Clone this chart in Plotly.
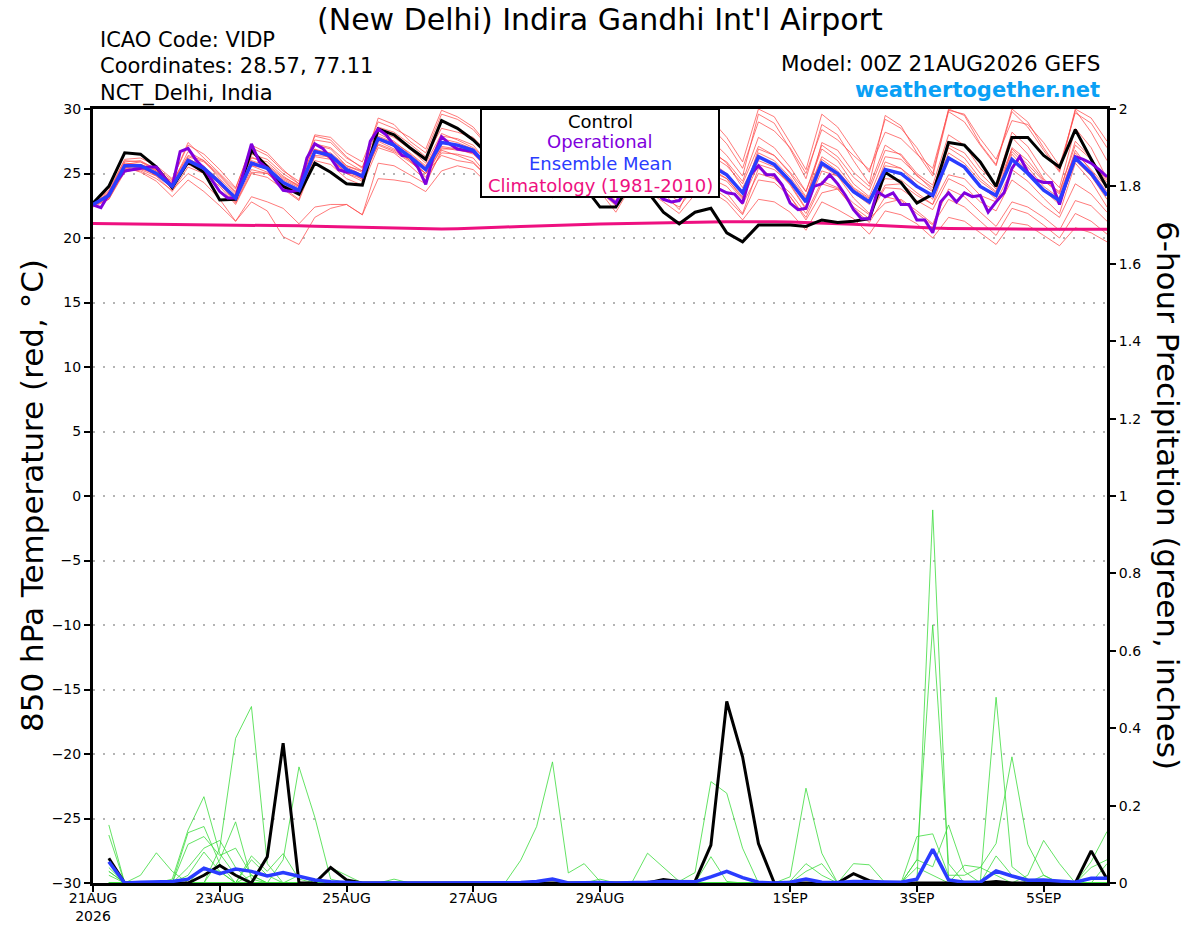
import pandas as pd
import plotly.graph_objects as go

# ---------------- data ----------------
RUN_START = "2026-08-21 00:00"
RUN_END = "2026-09-06 00:00"
N6 = 65    # 6-hourly steps (0..384 h)
N3 = 129   # 3-hourly steps for the operational run

tick_dates = ["2026-08-21", "2026-08-23", "2026-08-25", "2026-08-27",
              "2026-08-29", "2026-09-01", "2026-09-03", "2026-09-05"]
tick_labels = ["21AUG<br>2026", "23AUG", "25AUG", "27AUG", "29AUG", "1SEP", "3SEP", "5SEP"]

# 850 hPa temperature (deg C), 6-hourly
control_t = [22.7, 24.0, 26.6, 26.5, 25.5, 23.9, 25.9, 25.1,
             22.95, 23.0, 26.8, 25.5, 24.0, 23.4, 25.8, 25.1,
             24.2, 24.1, 28.45, 28.0, 27.0, 26.1, 29.1, 28.5,
             27.6, 26.4, 26.3, 25.2, 27.4, 26.6, 25.2, 24.0,
             22.4, 22.4, 24.3, 23.6, 22.0, 21.1, 22.0, 22.3,
             20.4, 19.7, 21.0, 21.0, 21.0, 20.9, 21.4, 21.2,
             21.3, 21.5, 25.1, 24.3, 22.7, 23.4, 27.4, 27.2,
             25.9, 24.0, 27.8, 27.8, 26.4, 25.5, 28.4, 26.1,
             23.9]

mean_t = [22.6, 23.3, 25.6, 25.6, 25.0, 24.0, 26.0, 25.4,
          24.3, 23.1, 25.8, 25.4, 24.3, 23.7, 26.7, 26.4,
          25.3, 24.8, 27.7, 27.2, 26.3, 25.3, 27.4, 27.2,
          26.8, 25.4, 26.6, 26.0, 25.1, 24.3, 26.2, 25.6,
          24.9, 23.6, 25.9, 25.4, 24.7, 23.9, 25.9, 25.6,
          24.9, 23.5, 26.3, 25.7, 24.4, 22.8, 25.8, 25.0,
          23.6, 22.8, 25.3, 25.0, 24.0, 23.3, 26.2, 25.5,
          24.0, 23.3, 26.1, 25.0, 23.7, 22.9, 26.2, 25.0,
          23.3]

climatology_t = [21.12, 21.11, 21.10, 21.09, 21.08, 21.07, 21.06, 21.05,
                 21.04, 21.03, 21.01, 20.99, 20.97, 20.94, 20.91, 20.88,
                 20.85, 20.82, 20.79, 20.76, 20.73, 20.71, 20.70, 20.72,
                 20.75, 20.80, 20.85, 20.90, 20.95, 20.99, 21.02, 21.05,
                 21.08, 21.11, 21.14, 21.17, 21.19, 21.21, 21.23, 21.25,
                 21.26, 21.27, 21.27, 21.26, 21.24, 21.21, 21.17, 21.13,
                 21.07, 21.00, 20.93, 20.87, 20.81, 20.77, 20.74, 20.72,
                 20.70, 20.68, 20.67, 20.67, 20.67, 20.67, 20.67, 20.67,
                 20.67]

# operational run, 3-hourly
operational_t = [22.56, 22.35, 23.4, 24.4, 25.2, 25.3, 25.4, 25.5,
                 25.5, 24.7, 24.0, 26.7, 26.95, 26.05, 25.4, 24.5,
                 23.6, 23.1, 23.1, 25.1, 27.3, 25.9, 25.4, 24.5,
                 23.7, 23.6, 23.7, 26.2, 27.3, 26.95, 26.2, 25.3,
                 25.1, 25.1, 24.75, 27.5, 28.45, 28.0, 27.2, 26.4,
                 26.3, 25.5, 24.16, 26.4, 27.85, 27.3, 26.9, 26.8,
                 26.7, 26.1, 25.2, 26.0, 26.6, 26.3, 25.9, 25.3,
                 24.8, 24.3, 24.0, 25.6, 26.3, 25.8, 25.2, 24.6,
                 24.0, 23.2, 22.7, 23.9, 25.9, 25.5, 24.9, 23.5,
                 23.0, 22.8, 22.9, 23.8, 24.6, 24.4, 24.1, 23.8,
                 23.5, 23.4, 22.7, 24.9, 25.6, 24.9, 24.9, 24.1,
                 22.7, 22.2, 22.3, 24.0, 24.2, 24.9, 24.2, 23.3,
                 22.2, 21.5, 21.5, 23.6, 23.2, 23.5, 22.6, 22.6,
                 21.4, 21.4, 20.4, 22.8, 23.5, 22.8, 23.5, 23.2,
                 23.3, 22.0, 22.8, 23.5, 25.4, 26.3, 25.1, 24.5,
                 24.3, 24.3, 22.6, 24.6, 26.3, 26.1, 25.8, 25.3,
                 24.75]

# ensemble members (temperature)
member_t01 = [22.8, 23.6, 26.0, 25.9, 25.4, 24.5, 27.4, 26.2, 25.0, 23.8, 27.2, 26.6, 25.3, 24.2, 27.9, 27.6,
              26.3, 25.4, 29.3, 28.8, 27.5, 26.6, 29.6, 29.2, 28.4, 27.0, 28.6, 27.8, 26.3, 25.2, 28.4, 27.6,
              26.5, 24.8, 28.3, 27.6, 26.1, 24.6, 28.0, 27.6, 26.4, 24.8, 29.6, 28.9, 26.9, 24.6, 28.8, 28.0,
              26.0, 24.2, 29.5, 28.7, 26.6, 24.8, 29.8, 29.0, 27.2, 25.6, 29.8, 28.6, 26.8, 25.1, 29.9, 28.2, 26.0]
member_t02 = [22.5, 23.0, 25.3, 25.2, 24.6, 23.7, 25.0, 24.3, 23.0, 21.3, 22.8, 22.1, 20.1, 19.5, 21.6, 22.3,
              22.6, 21.8, 24.6, 24.5, 24.3, 23.6, 25.2, 25.6, 25.3, 24.1, 25.7, 25.3, 24.2, 23.1, 24.8, 24.6,
              23.6, 22.0, 24.1, 23.6, 22.8, 21.9, 23.4, 24.0, 23.1, 21.8, 24.5, 24.3, 23.2, 21.4, 23.5, 23.8,
              22.4, 21.5, 22.7, 23.0, 22.1, 21.1, 23.8, 23.2, 22.0, 20.9, 22.8, 22.4, 21.6, 20.6, 22.9, 22.5, 21.3]
member_t03 = [22.6, 23.4, 25.8, 25.7, 25.3, 24.3, 26.3, 25.9, 24.8, 23.5, 26.2, 25.9, 24.8, 24.0, 27.3, 27.0,
              25.9, 25.2, 28.3, 27.8, 26.9, 25.8, 28.1, 27.6, 27.0, 25.9, 27.3, 26.6, 25.6, 24.7, 27.1, 26.4,
              25.5, 24.1, 26.8, 26.2, 25.3, 24.5, 27.0, 26.6, 25.9, 24.4, 27.8, 27.0, 25.5, 23.6, 27.2, 26.3,
              24.7, 23.7, 26.8, 26.5, 25.0, 24.1, 28.0, 27.2, 25.4, 24.2, 28.2, 27.1, 25.2, 23.9, 28.5, 27.0, 24.6]
member_t04 = [22.5, 23.1, 25.2, 25.3, 24.8, 23.6, 25.5, 25.0, 24.0, 22.6, 25.0, 24.7, 23.8, 22.9, 26.0, 25.7,
              24.6, 24.1, 27.0, 26.6, 25.6, 24.5, 26.6, 26.5, 26.2, 24.7, 25.8, 25.3, 24.5, 23.6, 25.3, 24.9,
              24.2, 22.9, 25.0, 24.6, 24.0, 23.1, 24.8, 24.6, 24.0, 22.6, 25.0, 24.6, 23.5, 21.9, 24.4, 23.9,
              22.7, 21.8, 23.9, 23.8, 22.9, 22.2, 24.6, 24.0, 22.8, 22.1, 24.5, 23.6, 22.5, 21.6, 24.2, 23.4, 22.0]
member_t05 = [22.7, 23.2, 25.5, 25.1, 24.4, 23.2, 24.5, 23.6, 22.5, 21.3, 23.2, 22.8, 22.3, 21.1, 22.4, 22.6,
              22.6, 21.8, 25.8, 25.6, 24.9, 24.2, 26.8, 26.4, 25.9, 24.6, 26.2, 25.7, 24.9, 23.9, 26.0, 25.2,
              24.1, 22.6, 25.4, 24.7, 23.5, 22.2, 24.9, 24.3, 23.5, 21.9, 25.4, 24.7, 23.2, 21.6, 24.2, 23.8,
              22.3, 21.2, 23.2, 22.9, 21.9, 21.0, 23.0, 22.4, 21.3, 20.2, 22.3, 21.9, 21.0, 20.0, 21.9, 21.3, 20.3]
member_t06 = [22.6, 23.5, 25.9, 26.0, 25.3, 24.2, 26.7, 26.0, 24.9, 23.6, 26.5, 26.1, 25.0, 24.2, 27.6, 27.4,
              26.2, 25.5, 28.6, 28.2, 27.3, 26.3, 28.5, 28.2, 27.8, 26.5, 28.0, 27.4, 26.5, 25.5, 28.7, 28.1,
              27.1, 25.6, 28.9, 28.2, 27.0, 25.6, 29.2, 28.6, 27.3, 25.4, 29.0, 28.3, 27.0, 25.0, 28.4, 27.6,
              26.4, 25.3, 28.2, 27.7, 26.5, 25.4, 29.9, 29.6, 27.7, 26.1, 29.1, 28.8, 27.4, 25.6, 29.7, 28.9, 27.0]
member_t07 = [22.4, 23.0, 25.1, 25.4, 25.0, 23.8, 26.2, 25.4, 24.2, 23.3, 25.6, 25.4, 24.5, 23.9, 26.9, 26.1,
              25.0, 24.6, 27.5, 26.9, 26.1, 25.0, 26.9, 26.9, 26.8, 25.1, 26.2, 25.8, 25.0, 24.2, 25.8, 25.3,
              24.9, 23.1, 25.2, 25.1, 24.3, 23.5, 25.3, 25.4, 24.6, 23.1, 26.9, 26.4, 25.0, 23.2, 26.3, 25.5,
              23.9, 23.1, 24.6, 24.5, 23.5, 22.6, 26.3, 25.5, 24.1, 23.0, 27.0, 26.0, 24.5, 23.4, 26.6, 25.3, 23.9]
member_t08 = [22.5, 23.2, 25.4, 25.5, 24.9, 24.1, 25.8, 25.2, 24.2, 23.0, 25.6, 25.1, 24.0, 23.4, 26.3, 26.1,
              25.1, 24.7, 27.2, 26.7, 25.9, 25.0, 26.4, 26.0, 25.8, 24.6, 25.9, 25.2, 24.3, 23.4, 25.0, 24.4,
              23.6, 22.5, 24.3, 23.7, 23.1, 22.4, 24.0, 23.6, 22.8, 21.4, 23.0, 22.8, 22.0, 20.6, 22.8, 22.2,
              21.5, 20.3, 22.1, 21.8, 21.1, 20.0, 21.6, 21.3, 20.4, 19.5, 21.2, 21.0, 20.2, 19.4, 20.8, 20.4, 19.7]
member_t09 = [22.7, 23.5, 25.7, 25.9, 25.2, 24.4, 26.4, 26.0, 24.6, 23.4, 26.3, 25.7, 24.7, 24.1, 27.2, 26.9,
              25.6, 25.2, 28.1, 27.5, 26.5, 25.5, 27.9, 27.7, 27.2, 25.7, 27.2, 26.7, 25.7, 24.9, 26.9, 26.2,
              25.3, 23.9, 26.6, 26.1, 25.4, 24.6, 26.8, 26.4, 25.6, 24.2, 27.1, 26.4, 25.1, 23.6, 26.9, 26.0,
              24.2, 23.2, 26.3, 26.1, 24.9, 23.7, 27.2, 26.6, 25.0, 23.8, 26.9, 25.7, 24.4, 23.6, 27.2, 26.1, 24.5]
member_t10 = [22.6, 23.3, 25.6, 25.5, 25.1, 24.0, 25.9, 25.3, 24.3, 22.8, 25.3, 25.0, 23.9, 23.0, 26.4, 26.3,
              25.4, 24.5, 27.6, 27.1, 26.0, 24.7, 27.0, 26.8, 26.6, 25.6, 26.9, 26.3, 25.3, 24.0, 26.7, 26.3,
              25.6, 24.3, 27.0, 26.4, 25.5, 24.1, 27.3, 26.9, 25.8, 23.9, 26.3, 25.6, 24.3, 22.9, 27.4, 26.8,
              25.1, 24.0, 27.2, 26.4, 24.8, 23.9, 27.0, 26.2, 24.6, 23.6, 27.8, 26.5, 24.6, 23.5, 27.5, 26.2, 24.3]
member_t11 = [22.5, 23.4, 25.4, 25.7, 25.2, 24.1, 26.0, 25.5, 24.5, 23.0, 26.0, 25.6, 24.6, 24.0, 26.8, 26.6,
              25.6, 25.1, 27.9, 27.4, 26.6, 25.6, 27.7, 27.4, 26.9, 25.1, 26.4, 25.9, 24.8, 23.8, 25.6, 25.0,
              24.3, 22.7, 24.8, 24.5, 23.7, 22.8, 24.6, 24.9, 24.4, 23.0, 25.7, 25.3, 24.2, 22.3, 25.2, 24.8,
              23.5, 22.6, 25.9, 25.4, 24.1, 23.0, 26.3, 25.4, 23.9, 23.2, 26.5, 25.1, 23.7, 22.6, 26.0, 24.8, 23.0]
member_t12 = [22.8, 23.7, 26.1, 26.2, 25.6, 24.6, 27.2, 26.5, 25.3, 23.9, 27.0, 26.4, 25.2, 24.4, 28.0, 27.8,
              26.6, 25.9, 29.0, 28.5, 27.8, 26.9, 29.9, 29.4, 28.6, 27.1, 29.0, 28.3, 27.0, 25.8, 29.4, 28.9,
              27.6, 25.9, 29.6, 28.9, 27.5, 25.7, 29.9, 29.2, 27.8, 25.9, 30.0, 29.4, 27.4, 25.3, 29.6, 28.6,
              26.8, 25.1, 29.2, 28.5, 27.0, 25.0, 30.0, 29.5, 27.3, 25.7, 30.0, 29.0, 27.0, 25.2, 30.0, 29.3, 27.5]
member_t13 = [22.6, 23.1, 25.5, 25.6, 24.8, 24.0, 25.7, 25.1, 24.2, 22.7, 25.1, 25.0, 24.1, 23.6, 26.7, 26.2,
              25.0, 24.4, 27.3, 26.8, 26.0, 25.0, 27.1, 26.9, 26.5, 25.3, 26.5, 26.1, 25.2, 24.5, 26.4, 25.7,
              24.8, 23.4, 26.2, 25.6, 24.6, 23.4, 25.5, 25.2, 24.6, 23.2, 26.0, 25.5, 24.1, 22.2, 25.6, 24.8,
              23.1, 21.9, 24.1, 24.2, 23.3, 22.6, 24.9, 24.6, 23.3, 22.8, 25.3, 24.4, 23.1, 21.9, 25.8, 24.4, 22.4]
member_t14 = [22.5, 23.3, 25.7, 25.4, 24.9, 24.0, 26.1, 25.6, 24.1, 23.0, 25.9, 25.5, 24.4, 23.6, 26.9, 26.5,
              25.5, 24.9, 27.8, 27.3, 26.4, 25.4, 27.5, 27.0, 26.6, 25.5, 27.0, 26.2, 25.3, 24.6, 26.6, 25.8,
              24.9, 23.5, 26.1, 25.5, 24.9, 24.0, 26.5, 25.9, 25.0, 23.6, 26.6, 26.0, 24.7, 23.1, 26.1, 25.2,
              23.8, 23.0, 25.6, 25.4, 24.4, 23.6, 26.6, 25.8, 24.4, 23.5, 26.7, 25.5, 24.0, 23.1, 26.8, 25.2, 23.6]

# 6-hour precipitation (inches), valid 06Z 21AUG .. 00Z 6SEP (64 values)
control_p = [0.064, 0, 0, 0, 0, 0, 0.02, 0.045, 0.02, 0, 0.068, 0.361, 0, 0, 0.04, 0.008,
             0, 0, 0, 0, 0, 0, 0, 0, 0, 0, 0, 0, 0, 0, 0, 0,
             0, 0, 0, 0.009, 0.004, 0.004, 0.098, 0.469, 0.326, 0.102, 0, 0, 0, 0, 0, 0.024,
             0.006, 0, 0, 0, 0, 0, 0, 0, 0.004, 0, 0, 0, 0, 0, 0.083, 0.01]
mean_p = [0.055, 0, 0.002, 0.004, 0.004, 0.01, 0.038, 0.024, 0.036, 0.03, 0.018, 0.027, 0.017, 0.008, 0.003, 0.001,
          0, 0, 0.001, 0, 0, 0, 0, 0, 0, 0, 0.001, 0.004, 0.01, 0, 0.001, 0.001,
          0, 0, 0.002, 0.004, 0.003, 0.003, 0.016, 0.03, 0.014, 0.002, 0, 0.002, 0.01, 0.002, 0.001, 0.004,
          0.003, 0.002, 0.002, 0.01, 0.087, 0.008, 0.002, 0.002, 0.031, 0.018, 0.007, 0.008, 0.006, 0.002, 0.012, 0.012]

member_p01 = [0.02, 0, 0, 0, 0, 0, 0, 0.09, 0.374, 0.456, 0.05, 0, 0, 0, 0, 0,
              0, 0, 0, 0, 0, 0, 0, 0, 0, 0, 0, 0, 0, 0, 0, 0,
              0, 0, 0, 0, 0, 0, 0, 0, 0, 0, 0, 0, 0, 0, 0, 0,
              0, 0, 0, 0, 0, 0, 0, 0, 0, 0, 0, 0, 0, 0, 0, 0]
member_p02 = [0.15, 0, 0, 0, 0, 0, 0, 0, 0, 0, 0, 0.06, 0.30, 0.17, 0.01, 0,
              0, 0, 0, 0, 0, 0, 0, 0, 0, 0, 0, 0, 0, 0, 0, 0,
              0, 0, 0, 0, 0, 0, 0, 0, 0, 0, 0, 0, 0, 0, 0, 0,
              0, 0, 0, 0, 0, 0, 0, 0, 0, 0, 0, 0.02, 0, 0, 0, 0]
member_p03 = [0.124, 0, 0, 0, 0.01, 0.137, 0.223, 0.076, 0.02, 0, 0, 0, 0, 0, 0, 0,
              0, 0, 0, 0, 0, 0, 0, 0, 0, 0, 0, 0, 0, 0, 0, 0,
              0, 0, 0, 0, 0, 0, 0, 0, 0, 0, 0, 0.016, 0.245, 0.077, 0, 0,
              0, 0, 0, 0, 0, 0, 0, 0, 0, 0, 0, 0, 0, 0, 0, 0]
member_p04 = [0, 0, 0, 0, 0, 0.13, 0.146, 0.05, 0, 0, 0, 0, 0, 0, 0, 0,
              0, 0, 0, 0, 0, 0, 0, 0, 0, 0, 0.059, 0.146, 0.313, 0.026, 0.05, 0.004,
              0, 0, 0, 0, 0, 0, 0, 0, 0, 0, 0, 0, 0, 0, 0, 0,
              0, 0, 0, 0, 0, 0, 0, 0, 0, 0, 0, 0, 0, 0, 0, 0]
member_p05 = [0, 0, 0, 0, 0, 0, 0, 0.06, 0.158, 0.01, 0, 0, 0, 0, 0, 0,
              0, 0, 0, 0, 0, 0, 0, 0, 0, 0, 0, 0, 0, 0, 0, 0,
              0, 0, 0.077, 0.04, 0.004, 0.027, 0.262, 0.232, 0.09, 0, 0, 0, 0, 0, 0, 0,
              0, 0, 0, 0, 0, 0, 0, 0, 0, 0, 0, 0, 0, 0, 0, 0]
member_p06 = [0, 0, 0.02, 0.078, 0.03, 0, 0, 0, 0, 0, 0, 0, 0, 0, 0, 0,
              0, 0, 0, 0, 0, 0, 0, 0, 0, 0, 0, 0, 0, 0, 0, 0,
              0, 0, 0, 0, 0, 0, 0, 0, 0, 0, 0, 0, 0, 0, 0, 0,
              0, 0, 0, 0, 0.964, 0.01, 0, 0, 0, 0, 0, 0, 0, 0, 0, 0]
member_p07 = [0, 0, 0, 0, 0, 0, 0, 0, 0, 0.02, 0, 0, 0.02, 0, 0, 0,
              0, 0, 0, 0, 0, 0, 0, 0, 0, 0, 0, 0, 0, 0, 0, 0,
              0, 0, 0, 0, 0, 0, 0, 0, 0, 0, 0, 0, 0, 0, 0, 0,
              0, 0, 0, 0.06, 0.667, 0.05, 0, 0, 0, 0, 0, 0, 0, 0, 0, 0]
member_p08 = [0, 0, 0, 0, 0, 0, 0.04, 0.03, 0, 0, 0, 0, 0, 0, 0, 0,
              0, 0, 0, 0, 0, 0, 0, 0, 0, 0, 0, 0, 0, 0, 0, 0,
              0, 0, 0, 0, 0, 0, 0, 0, 0, 0, 0, 0, 0, 0, 0, 0,
              0, 0, 0, 0.06, 0.042, 0.15, 0.03, 0, 0.48, 0.042, 0.01, 0, 0, 0, 0, 0]
member_p09 = [0.03, 0, 0, 0, 0, 0.02, 0.08, 0.03, 0, 0, 0, 0, 0, 0, 0, 0,
              0, 0, 0, 0, 0, 0, 0, 0, 0, 0, 0, 0, 0, 0, 0, 0,
              0, 0, 0, 0, 0, 0, 0, 0, 0, 0, 0, 0, 0, 0, 0, 0,
              0, 0, 0, 0.12, 0.127, 0.02, 0.02, 0.04, 0.102, 0.326, 0.1, 0.02, 0, 0, 0, 0]
member_p10 = [0, 0, 0, 0, 0, 0, 0, 0, 0, 0.07, 0.03, 0.076, 0.01, 0, 0, 0,
              0, 0, 0, 0, 0, 0, 0, 0, 0, 0, 0, 0, 0, 0, 0, 0,
              0, 0, 0, 0, 0, 0, 0, 0, 0, 0, 0, 0, 0, 0, 0, 0.05,
              0.047, 0, 0, 0, 0, 0, 0, 0, 0, 0, 0, 0, 0, 0, 0.055, 0.133]
member_p11 = [0, 0, 0, 0, 0, 0.04, 0.09, 0.11, 0.04, 0, 0, 0, 0, 0, 0, 0,
              0, 0, 0.01, 0, 0, 0, 0, 0, 0, 0, 0, 0, 0, 0, 0, 0,
              0, 0, 0, 0, 0, 0, 0, 0, 0, 0, 0, 0.005, 0.05, 0.02, 0, 0,
              0, 0, 0, 0, 0, 0, 0.046, 0.04, 0.02, 0, 0, 0, 0, 0, 0, 0]
member_p12 = [0, 0, 0, 0, 0, 0.1, 0.12, 0.071, 0.09, 0.02, 0, 0, 0, 0, 0, 0,
              0, 0, 0, 0, 0, 0, 0, 0, 0, 0, 0, 0, 0, 0, 0, 0,
              0, 0, 0, 0, 0, 0, 0, 0, 0, 0, 0, 0, 0, 0, 0, 0,
              0, 0, 0, 0, 0, 0, 0, 0, 0, 0, 0.02, 0.11, 0.05, 0, 0, 0]
member_p13 = [0.04, 0, 0, 0, 0, 0, 0, 0, 0, 0, 0, 0, 0, 0, 0.04, 0.02,
              0, 0, 0, 0, 0, 0, 0, 0, 0, 0, 0, 0, 0, 0, 0, 0.01,
              0, 0, 0, 0, 0, 0, 0.068, 0.004, 0, 0, 0, 0, 0, 0, 0, 0,
              0, 0, 0, 0, 0, 0, 0, 0, 0, 0, 0, 0, 0, 0, 0.04, 0.06]
member_p14 = [0.03, 0, 0, 0, 0, 0, 0, 0, 0, 0.06, 0.02, 0, 0, 0, 0, 0,
              0, 0, 0, 0, 0, 0, 0, 0, 0, 0, 0, 0, 0, 0, 0, 0,
              0, 0, 0, 0, 0, 0, 0, 0, 0, 0, 0, 0, 0.03, 0.05, 0, 0,
              0, 0, 0, 0.04, 0.02, 0, 0, 0, 0.07, 0.02, 0, 0, 0, 0, 0, 0.05]

members_t = [member_t01, member_t02, member_t03, member_t04, member_t05, member_t06, member_t07,
             member_t08, member_t09, member_t10, member_t11, member_t12, member_t13, member_t14]
members_p = [member_p01, member_p02, member_p03, member_p04, member_p05, member_p06, member_p07,
             member_p08, member_p09, member_p10, member_p11, member_p12, member_p13, member_p14]

# ---------------- figure ----------------
t6 = list(pd.date_range(RUN_START, periods=N6, freq="6h"))
t3 = list(pd.date_range(RUN_START, periods=N3, freq="3h"))
t6p = t6[1:]

TEXTFONT = "DejaVu Sans, Verdana, sans-serif"
RED = "rgba(255,70,70,0.9)"
GREEN = "rgb(60,220,60)"
BLACK = "#000000"
PURPLE = "#8000dd"
BLUE = "#2a3cff"
MAGENTA = "#ee1080"

fig = go.Figure()


def add(x, y, color, width, axis="y"):
    n = min(len(x), len(y))
    fig.add_trace(go.Scatter(x=x[:n], y=y[:n], mode="lines", yaxis=axis,
                             line=dict(color=color, width=width),
                             hoverinfo="skip", showlegend=False))


for m in members_t:
    add(t6, m, RED, 0.8)
add(t6, climatology_t, MAGENTA, 3)
add(t6, control_t, BLACK, 3)
add(t3, operational_t, PURPLE, 3)
add(t6, mean_t, BLUE, 3.5)

for m in members_p:
    add(t6p, m, GREEN, 0.8, "y2")
add(t6p, control_p, BLACK, 3, "y2")
add(t6p, mean_p, BLUE, 3.5, "y2")

W, H = 1200, 927
L, R, T, B = 93, W - 1107, 109, H - 883


def px(xp):
    return (xp - 93) / 1014.0


def py(yp):
    return (883 - yp) / 774.0


fig.update_layout(
    width=W, height=H,
    margin=dict(l=L, r=R, t=T, b=B, pad=0, autoexpand=False),
    paper_bgcolor="white", plot_bgcolor="white",
    font=dict(family=TEXTFONT, color="black", size=14),
    showlegend=False,
    xaxis=dict(type="date", range=[RUN_START, RUN_END], automargin=False,
               tickvals=tick_dates, ticktext=tick_labels,
               showline=True, linewidth=3, linecolor="black", mirror=True,
               ticks="outside", ticklen=6, tickwidth=2, tickcolor="black",
               ticklabelstandoff=-6,
               showgrid=False, zeroline=False, tickfont=dict(size=14)),
    yaxis=dict(range=[-30, 30], tick0=-30, dtick=5, automargin=False,
               showline=True, linewidth=3, linecolor="black", mirror=True,
               ticks="outside", ticklen=6, tickwidth=2, tickcolor="black",
               showgrid=True, gridcolor="#b4b4b4", gridwidth=1.5, griddash="2px,8px",
               zeroline=False, tickfont=dict(size=14)),
    yaxis2=dict(range=[0, 2], tick0=0, dtick=0.2, overlaying="y", side="right", anchor="x",
                automargin=False,
                showline=True, linewidth=3, linecolor="black",
                ticks="outside", ticklen=6, tickwidth=2, tickcolor="black",
                showgrid=False, zeroline=False, tickfont=dict(size=14)),
)

# legend box
fig.add_shape(type="rect", xref="paper", yref="paper",
              x0=px(481), x1=px(719), y0=py(197), y1=py(109),
              fillcolor="white", line=dict(color="black", width=2), layer="above")

annos = [
    ("(New Delhi) Indira Gandhi Int'l Airport", 600, 19, "center", 30, "black"),
    ("ICAO Code: VIDP", 98, 40, "left", 21, "black"),
    ("Coordinates: 28.57, 77.11", 98, 66, "left", 21, "black"),
    ("NCT_Delhi, India", 98, 93, "left", 21, "black"),
    ("Model: 00Z 21AUG2026 GEFS", 1102, 64, "right", 21.5, "black"),
    ("<b>weathertogether.net</b>", 1102, 90, "right", 21, "#0aa0f5"),
    ("Control", 600, 121, "center", 18, BLACK),
    ("Operational", 600, 142, "center", 18, PURPLE),
    ("Ensemble Mean", 600, 163, "center", 18, BLUE),
    ("Climatology (1981-2010)", 600, 185, "center", 18, MAGENTA),
]
for text, xp, yp, anchor, size, color in annos:
    fig.add_annotation(text=text, xref="paper", yref="paper", x=px(xp), y=py(yp),
                       xanchor=anchor, yanchor="middle", showarrow=False,
                       font=dict(size=size, color=color, family=TEXTFONT))

fig.add_annotation(text="850 hPa Temperature (red, °C)", xref="paper", yref="paper",
                   x=px(32), y=py(496), xanchor="center", yanchor="middle", textangle=-90,
                   showarrow=False, font=dict(size=31, color="black", family=TEXTFONT))
fig.add_annotation(text="6-hour Precipitation (green, inches)", xref="paper", yref="paper",
                   x=px(1168), y=py(495), xanchor="center", yanchor="middle", textangle=90,
                   showarrow=False, font=dict(size=31, color="black", family=TEXTFONT))

fig.write_html("out.html", include_plotlyjs=True, full_html=True,
               config={"displayModeBar": False},
               post_script="document.body.style.margin='0px';document.body.style.overflow='hidden';")
